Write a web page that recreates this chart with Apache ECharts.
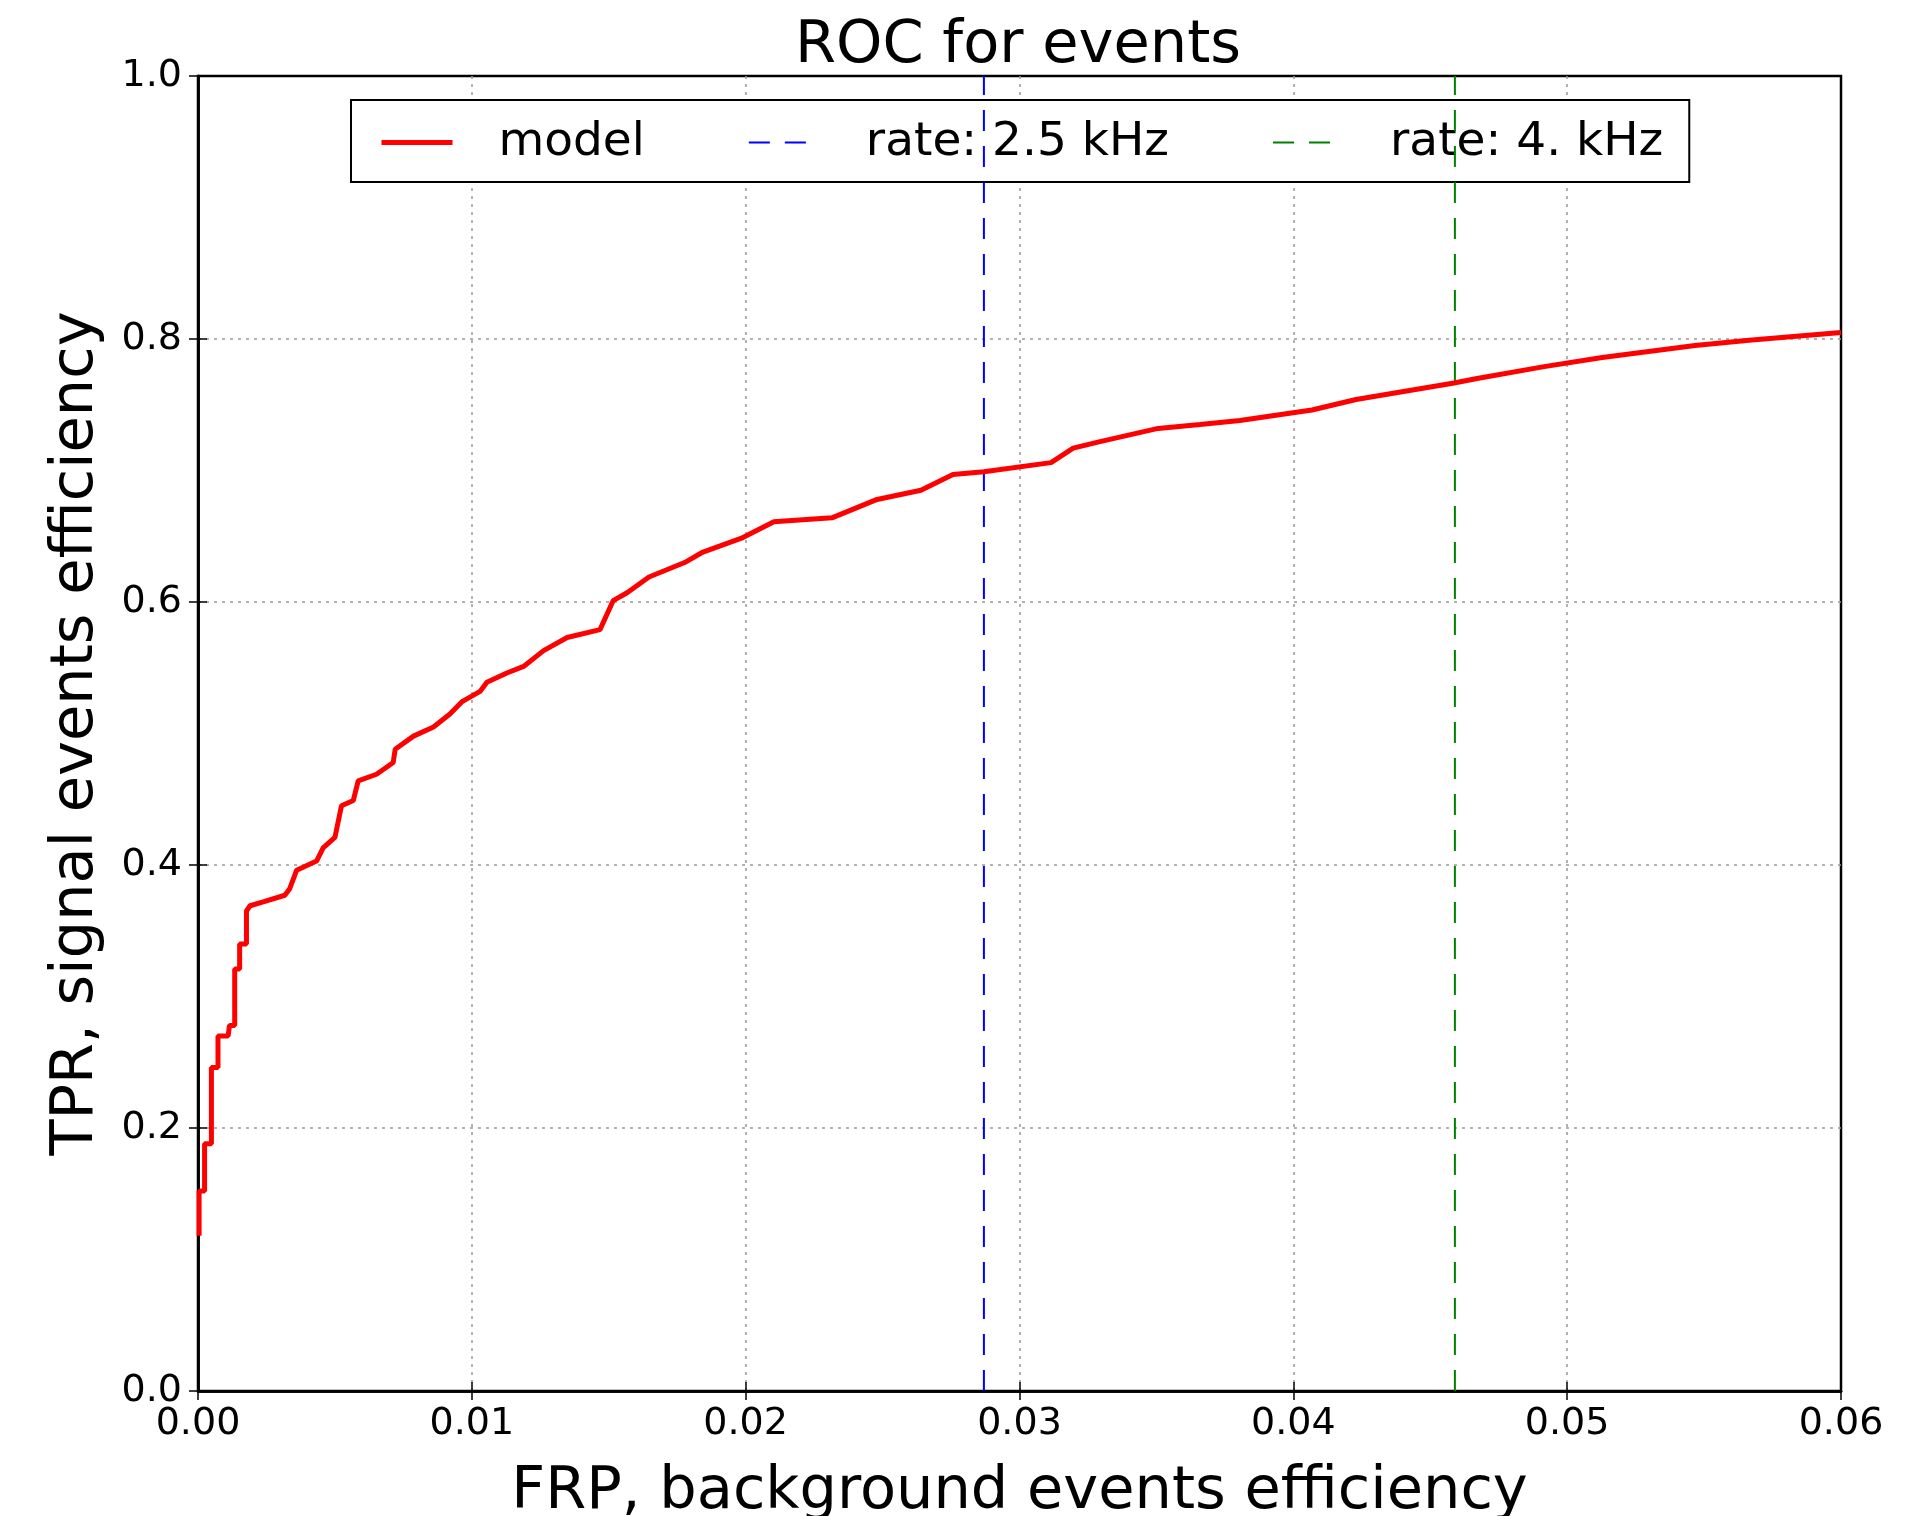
<!DOCTYPE html>
<html>
<head>
<meta charset="utf-8">
<script src="https://cdn.jsdelivr.net/npm/echarts@6/dist/echarts.min.js"></script>
<style>
  html, body { margin: 0; padding: 0; background: #fff; }
  #chart { width: 1917px; height: 1516px; }
</style>
</head>
<body>
<div id="chart"></div>
<script>
// ROC curve points (false positive rate, true positive rate)
var fpr = [0.00004, 0.00004, 0.00024, 0.00024, 0.00049, 0.00049, 0.00073, 0.00073, 0.0011, 0.00115,
  0.00134, 0.00134, 0.00152, 0.00152, 0.00177, 0.00177, 0.0019, 0.00238, 0.00317, 0.00335,
  0.0036, 0.00433, 0.00457, 0.005, 0.00524, 0.00567, 0.00585, 0.00652, 0.00713, 0.0072,
  0.00787, 0.0086, 0.00921, 0.00963, 0.0103, 0.01055, 0.01128, 0.01189, 0.01262, 0.01348,
  0.01468, 0.01516, 0.01567, 0.01647, 0.01777, 0.01844, 0.0199, 0.02103, 0.02315, 0.0248,
  0.0264, 0.02757, 0.0287, 0.03115, 0.03196, 0.03294, 0.03506, 0.03659, 0.03805, 0.04068,
  0.04229, 0.04587, 0.04671, 0.04916, 0.05128, 0.05467, 0.05664, 0.06];
var tpr = [0.118, 0.152, 0.152, 0.188, 0.188, 0.246, 0.246, 0.270, 0.270, 0.278,
  0.278, 0.321, 0.321, 0.340, 0.340, 0.365, 0.369, 0.372, 0.377, 0.382,
  0.396, 0.403, 0.413, 0.421, 0.445, 0.449, 0.464, 0.469, 0.478, 0.488,
  0.498, 0.505, 0.515, 0.524, 0.532, 0.539, 0.546, 0.551, 0.563, 0.573,
  0.579, 0.601, 0.607, 0.619, 0.630, 0.638, 0.649, 0.661, 0.664, 0.678,
  0.685, 0.697, 0.699, 0.706, 0.717, 0.722, 0.732, 0.735, 0.738, 0.746,
  0.754, 0.7665, 0.770, 0.779, 0.786, 0.795, 0.799, 0.805];

// rate thresholds (vertical lines)
var rateNames = ['rate: 2.5 kHz', 'rate: 4. kHz'];
var rateFpr = [0.0287, 0.0459];
var rateColors = ['#0000ff', '#008000'];

var xTicks = [0, 0.01, 0.02, 0.03, 0.04, 0.05, 0.06];
var yTicks = [0, 0.2, 0.4, 0.6, 0.8, 1.0];

var FONT = 'DejaVu Sans';

var curve = fpr.map(function (x, i) { return [x, tpr[i]]; });

var chart = echarts.init(document.getElementById('chart'));

var gridLine = { show: true, showMinLine: false, showMaxLine: false,
  lineStyle: { color: '#999', width: 1.5, type: [3, 5] } };
var axisTick = { show: true, inside: true, length: 9, lineStyle: { color: '#000', width: 1.5 } };
var frameLine = { show: true, lineStyle: { color: '#000', width: 2.5 } };

var series = [{
  name: 'model',
  type: 'line',
  data: curve,
  symbol: 'none',
  lineStyle: { color: '#ff0000', width: 5 },
  itemStyle: { color: '#ff0000' },
  z: 5
}];
rateFpr.forEach(function (x, i) {
  series.push({
    name: rateNames[i],
    type: 'line',
    data: [[x, yTicks[0]], [x, yTicks[yTicks.length - 1]]],
    symbol: 'none',
    lineStyle: { color: rateColors[i], width: 2, type: [21, 15] },
    itemStyle: { color: rateColors[i] },
    z: 4
  });
});

var option = {
  animation: false,
  backgroundColor: '#fff',
  title: {
    text: 'ROC for events',
    left: 1013,
    top: 12,
    textAlign: 'center',
    textStyle: { fontFamily: FONT, fontSize: 59, fontWeight: 'normal', color: '#000' }
  },
  legend: {
    left: 351,
    top: 100,
    orient: 'horizontal',
    itemWidth: 71,
    itemHeight: 20,
    itemGap: 103,
    padding: [19, 26, 16, 28],
    borderColor: '#000',
    borderWidth: 2,
    backgroundColor: '#fff',
    itemStyle: { opacity: 0 },
    data: [{ name: 'model', lineStyle: { width: 5 } }, rateNames[0], rateNames[1]],
    textStyle: {
      fontFamily: FONT, fontSize: 47, color: '#000',
      padding: [0, 0, 0, 41], lineHeight: 47
    }
  },
  grid: {
    left: 198, top: 76, width: 1643, height: 1315,
    show: true, borderColor: '#000', borderWidth: 2.5,
    containLabel: false,
    outerBoundsMode: 'none'
  },
  xAxis: [{
    type: 'value',
    min: xTicks[0], max: xTicks[xTicks.length - 1], interval: 0.01,
    name: 'FRP, background events efficiency',
    nameLocation: 'middle',
    nameGap: 72,
    nameTextStyle: { fontFamily: FONT, fontSize: 59, color: '#000' },
    axisLine: frameLine,
    axisTick: axisTick,
    splitLine: gridLine,
    axisLabel: {
      fontFamily: FONT, fontSize: 38, color: '#000', margin: 14,
      formatter: function (v) { return v.toFixed(2); }
    }
  }, {
    type: 'value', position: 'top',
    min: xTicks[0], max: xTicks[xTicks.length - 1], interval: 0.01,
    axisLine: frameLine,
    axisTick: axisTick,
    axisLabel: { show: false },
    splitLine: { show: false }
  }],
  yAxis: [{
    type: 'value',
    min: yTicks[0], max: yTicks[yTicks.length - 1], interval: 0.2,
    name: 'TPR, signal events efficiency',
    nameLocation: 'middle',
    nameGap: 92,
    nameTextStyle: { fontFamily: FONT, fontSize: 59, color: '#000' },
    axisLine: frameLine,
    axisTick: axisTick,
    splitLine: gridLine,
    axisLabel: {
      fontFamily: FONT, fontSize: 38, color: '#000', margin: 16,
      formatter: function (v) { return v.toFixed(1); }
    }
  }, {
    type: 'value', position: 'right',
    min: yTicks[0], max: yTicks[yTicks.length - 1], interval: 0.2,
    axisLine: frameLine,
    axisTick: axisTick,
    axisLabel: { show: false },
    splitLine: { show: false }
  }],
  series: series
};

chart.setOption(option);
</script>
</body>
</html>
